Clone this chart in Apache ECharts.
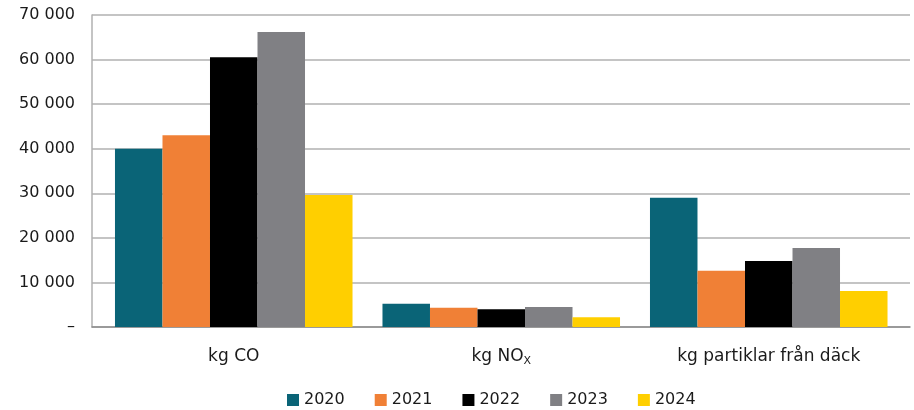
<!DOCTYPE html>
<html><head><meta charset="utf-8">
<script src="https://cdn.jsdelivr.net/npm/echarts@6/dist/echarts.min.js"></script>
<style>html,body{margin:0;padding:0;background:#fff}#c{width:914px;height:410px}</style>
</head><body><div id="c"></div>
<script>
const categories = ['kg CO', 'kg NOX', 'kg partiklar från däck'];
const years = ['2020', '2021', '2022', '2023', '2024'];
const v2020 = [40000, 5200, 29000];
const v2021 = [43000, 4300, 12600];
const v2022 = [60500, 4000, 14800];
const v2023 = [66200, 4500, 17700];
const v2024 = [29600, 2200, 8100];
const yTicks = [0, 10000, 20000, 30000, 40000, 50000, 60000, 70000];
const colors = ['#0a6477', '#f08036', '#000000', '#808084', '#ffcf00'];
const values = [v2020, v2021, v2022, v2023, v2024];
const FONT = 'DejaVu Sans';
const TXT = '#1a1a1a';
const yMin = yTicks[0], yMax = yTicks[yTicks.length - 1], yStep = yTicks[1] - yTicks[0];
const chart = echarts.init(document.getElementById('c'), null, {renderer: 'canvas'});
chart.setOption({
  animation: false,
  color: colors,
  grid: [
    {left: 92, right: 4, top: 15, bottom: 83, containLabel: false},
    {left: 100, right: 11.5, top: 15, bottom: 83, containLabel: false}
  ],
  legend: {
    top: 387, left: 282,
    itemWidth: 12, itemHeight: 12, itemGap: 30,
    icon: 'rect',
    textStyle: {fontFamily: FONT, fontSize: 16, color: TXT},
    data: years
  },
  xAxis: [
    {
      gridIndex: 0, type: 'value', min: 0, max: 1,
      axisLine: {show: true, lineStyle: {color: '#8c8c8c', width: 1.5}},
      axisTick: {show: false}, axisLabel: {show: false}, splitLine: {show: false}
    },
    {
      gridIndex: 1, type: 'category', data: categories,
      axisLine: {show: false},
      axisTick: {show: false},
      axisLabel: {
        interval: 0, hideOverlap: false,
        margin: 20, fontFamily: FONT, fontSize: 17, color: TXT, lineHeight: 20,
        formatter: v => v === 'kg NOX' ? '{n|kg NO}{sub|X}' : '{n|' + v + '}',
        rich: {
          n: {fontFamily: FONT, fontSize: 17, color: TXT, lineHeight: 20},
          sub: {fontFamily: FONT, fontSize: 11, color: TXT, lineHeight: 20, verticalAlign: 'bottom', padding: [0, 0, 0, 0]}
        }
      }
    }
  ],
  yAxis: [
    {
      gridIndex: 0, type: 'value', min: yMin, max: yMax, interval: yStep,
      axisLine: {show: true, lineStyle: {color: '#b0b0b0', width: 1.5}},
      axisTick: {show: false},
      splitLine: {show: true, lineStyle: {color: '#b0b0b0', width: 1.5}},
      axisLabel: {
        margin: 17, fontFamily: FONT, fontSize: 16, color: TXT,
        formatter: v => v === 0 ? '–' : String(v).replace(/\B(?=(\d{3})+(?!\d))/g, ' ')
      }
    },
    {
      gridIndex: 1, type: 'value', min: yMin, max: yMax, interval: yStep,
      axisLine: {show: false}, axisTick: {show: false},
      axisLabel: {show: false}, splitLine: {show: false}
    }
  ],
  series: years.map((y, i) => ({
    name: y, type: 'bar', data: values[i],
    xAxisIndex: 1, yAxisIndex: 1,
    barGap: '0%', barCategoryGap: '11.2%'
  }))
});
</script></body></html>
